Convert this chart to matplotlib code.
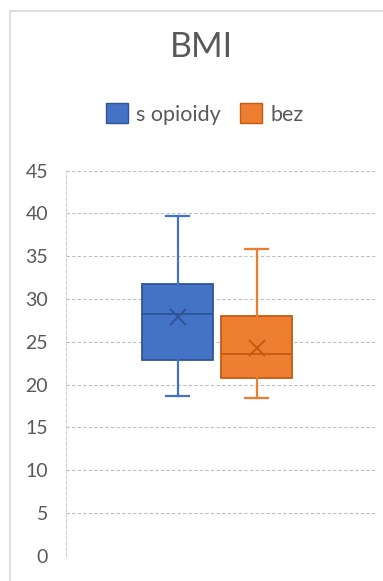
import matplotlib.pyplot as plt
from matplotlib.patches import Patch, Rectangle

# BMI box plot, two groups
groups = ["s opioidy", "bez"]
whislo = [18.7, 18.45]
q1 = [22.85, 20.75]
med = [28.3, 23.6]
q3 = [31.8, 28.0]
whishi = [39.65, 35.9]
means = [27.9, 24.25]
yticks = [0, 5, 10, 15, 20, 25, 30, 35, 40, 45]

fill = ["#4472C4", "#ED7D31"]
edge = ["#2F5597", "#C55A11"]

plt.rcParams['font.family'] = ['Lato', 'DejaVu Sans']

fig = plt.figure(figsize=(3.83, 5.81), dpi=100)
ax = fig.add_axes([66/383, 1-555.7/581, 310/383, (555.7-170.7)/581])

# chart frame (only top and left edges visible)
fig.patches.append(Rectangle((10/383, -0.1), 1.2, 1-10.5/581+0.1, transform=fig.transFigure,
                             fill=False, edgecolor="#D9D9D9", linewidth=1.2))

pos = [0.36, 0.615]
for i in range(len(groups)):
    st = [dict(med=med[i], q1=q1[i], q3=q3[i], whislo=whislo[i], whishi=whishi[i],
               mean=means[i], label=groups[i])]
    ax.bxp(st, positions=[pos[i]], widths=0.23, patch_artist=True, showmeans=True,
           showfliers=False, capwidths=0.074,
           boxprops=dict(facecolor=fill[i], edgecolor=edge[i], linewidth=1.3),
           medianprops=dict(color=edge[i], linewidth=1.3),
           whiskerprops=dict(color=fill[i], linewidth=1.6),
           capprops=dict(color=fill[i], linewidth=1.6),
           meanprops=dict(marker="x", markeredgecolor=edge[i], markersize=11,
                          markeredgewidth=1.4))

ax.set_xlim(0, 1)
ax.set_ylim(0, 45)
ax.set_yticks(yticks)
ax.set_xticks([])
ax.tick_params(axis="y", length=0, labelsize=14, labelcolor="#595959", pad=13)
for t in ax.get_yticklabels():
    t.set_horizontalalignment("right")
ax.grid(axis="y", color="#BFBFBF", linestyle=(0, (3, 2)), linewidth=0.8)
ax.set_axisbelow(True)
for s in ["top", "right", "bottom"]:
    ax.spines[s].set_visible(False)
ax.spines["left"].set_color("#D0D0D0")
ax.spines["left"].set_linestyle((0, (3, 2)))
ax.spines["left"].set_linewidth(0.8)

fig.text(201/383, 1-47/581, "BMI", ha="center", va="center", fontsize=24.5, color="#595959")

handles = [Patch(facecolor=fill[i], edgecolor=edge[i], label=groups[i]) for i in range(2)]
fig.legend(handles=handles, loc="center", bbox_to_anchor=(205/383, 1-114/581), ncol=2,
           frameon=False, fontsize=15.5, labelcolor="#595959", handlelength=1.0,
           handleheight=1.0, handletextpad=0.4, columnspacing=0.9)

fig.savefig("out.png", dpi=100, facecolor="white")
